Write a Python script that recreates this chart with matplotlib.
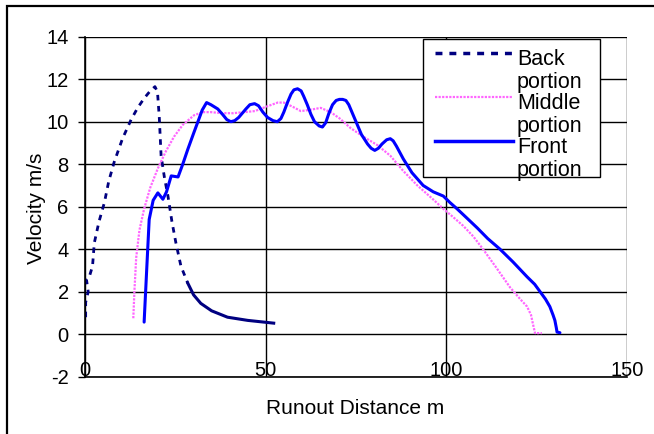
import numpy as np
import matplotlib
matplotlib.use("Agg")
import matplotlib.pyplot as plt
from matplotlib.patches import Rectangle
from matplotlib.lines import Line2D

plt.rcParams['font.family'] = ['Liberation Sans', 'DejaVu Sans']
plt.rcParams['axes.unicode_minus'] = False

# Back portion (dashed navy)
back_x = [0.1, 0.1, 0.8, 0.3, 1.1, 2.0, 2.5, 3.8, 5.3, 6.5, 8.0, 10.3, 12.7, 14.5,
          16.3, 18.0, 19.3, 20.0, 20.5, 21.0, 21.9, 22.9, 24.0, 25.1, 26.5, 28.4,
          30.0, 32.0, 35.0, 39.4, 45.0, 52.2]
back_v = [0.8, 1.5, 2.0, 2.6, 2.7, 3.2, 4.3, 5.3, 6.2, 7.2, 8.1, 9.2, 10.1, 10.65,
          11.1, 11.45, 11.65, 11.4, 10.2, 8.4, 7.4, 6.5, 5.3, 4.3, 3.2, 2.4,
          1.85, 1.45, 1.1, 0.8, 0.65, 0.52]

# Middle portion (pink dotted)
mid_x = [13.3, 13.6, 14.1, 15.0, 16.3, 18.0, 20.1, 22.3, 24.6, 27.0, 30.1, 32.5,
         34.8, 38.0, 41.0, 44.0, 47.0, 50.0, 53.3, 55.0, 57.5, 59.7, 62.0, 65.2,
         68.0, 70.5, 73.5, 77.0, 80.9, 84.5, 88.0, 92.0, 96.0, 99.2, 102.0, 104.7,
         107.5, 110.2, 114.0, 117.7, 120.5, 122.4, 123.5, 124.0, 124.6, 126.5]
mid_v = [0.75, 2.0, 3.6, 4.9, 5.9, 6.9, 7.8, 8.6, 9.3, 9.85, 10.3, 10.45,
         10.45, 10.4, 10.4, 10.45, 10.5, 10.7, 10.9, 10.9, 10.7, 10.5, 10.55, 10.65,
         10.45, 10.15, 9.7, 9.3, 8.9, 8.4, 7.7, 7.0, 6.4, 5.9, 5.5, 5.1,
         4.6, 4.0, 3.1, 2.2, 1.65, 1.3, 0.9, 0.5, 0.05, 0.05]

# Front portion (solid blue)
front_x = [16.3, 17.0, 17.7, 18.8, 20.1, 21.5, 22.5, 23.8, 25.7, 27.0, 28.4, 30.0,
           31.2, 32.4, 33.6, 34.8, 36.7, 38.0, 39.2, 40.3, 41.4, 42.5, 44.5, 45.6,
           46.9, 48.0, 49.2, 50.5, 52.0, 53.2, 54.2, 55.0, 56.0, 57.0, 57.8, 58.8,
           59.8, 60.5, 61.5, 62.5, 63.5, 64.8, 65.7, 66.6, 67.5, 68.5, 69.5, 70.4,
           71.3, 72.2, 73.0, 74.5, 76.5, 78.2, 79.2, 80.2, 81.2, 82.2, 83.5, 84.5,
           85.3, 86.2, 88.1, 90.5, 93.6, 96.4, 99.2, 101.0, 103.0, 105.5, 108.6,
           111.5, 114.9, 118.5, 122.4, 124.5, 126.0, 127.5, 128.7, 129.6, 130.1,
           130.5, 130.7, 131.5]
front_v = [0.57, 3.0, 5.4, 6.3, 6.65, 6.35, 6.7, 7.45, 7.4, 8.0, 8.7, 9.45,
           10.0, 10.55, 10.9, 10.8, 10.6, 10.35, 10.1, 10.0, 10.05, 10.2, 10.6, 10.8,
           10.85, 10.75, 10.45, 10.2, 10.05, 10.0, 10.15, 10.45, 10.9, 11.3, 11.5, 11.55,
           11.45, 11.2, 10.8, 10.35, 10.0, 9.8, 9.75, 9.95, 10.4, 10.8, 11.0, 11.05,
           11.05, 11.0, 10.8, 10.2, 9.4, 8.95, 8.75, 8.65, 8.75, 8.95, 9.15, 9.2,
           9.1, 8.85, 8.25, 7.6, 7.0, 6.7, 6.5, 6.2, 5.9, 5.5, 5.0,
           4.5, 4.0, 3.4, 2.7, 2.35, 2.0, 1.65, 1.3, 0.9, 0.65,
           0.3, 0.1, 0.07]

x_ticks = [0, 50, 100, 150]
y_ticks = [-2, 0, 2, 4, 6, 8, 10, 12, 14]
labels = ['Back\nportion', 'Middle\nportion', 'Front\nportion']

W, H = 654, 434
fig = plt.figure(figsize=(W / 100, H / 100), dpi=100)
ax = fig.add_axes([85.3 / W, 1 - 376.7 / H, 541.4 / W, 340 / H])

navy, pink, blue = '#000080', '#ff66ff', '#0000ff'

# dashes merge into a solid line in the dense tail
split = back_x.index(28.4)
ax.plot(back_x[:split + 1], back_v[:split + 1], color=navy, lw=2, dashes=(2, 2))
ax.plot(back_x[split:], back_v[split:], color=navy, lw=2.2)
ax.plot(mid_x, mid_v, color=pink, lw=1.6, linestyle=(0, (1, 0.6)))
ax.plot(front_x, front_v, color=blue, lw=2.2, solid_capstyle='round',
        solid_joinstyle='round')

ax.set_xlim(0, 150)
ax.set_ylim(-2, 14)
ax.set_xticks(x_ticks)
ax.set_yticks(y_ticks)
ax.grid(True, color='black', lw=1)
for s in ['top', 'right']:
    ax.spines[s].set_visible(False)
for s in ['left', 'bottom']:
    ax.spines[s].set_linewidth(1.2)
ax.tick_params(axis='y', length=5, width=1, pad=7, labelsize=14.5)
ax.tick_params(axis='x', length=0, pad=-11, labelsize=14.5)

fig.text(36 / W, 1 - 208 / H, 'Velocity m/s', rotation=90, ha='center',
         va='center', fontsize=15)
fig.text(355 / W, 1 - 408 / H, 'Runout Distance m', ha='center', va='center',
         fontsize=15)

# figure frame (clipped on right and bottom like the reference)
fig.patches.append(Rectangle((7.3 / W, -0.1), 1.2, 1 - 6.5 / H + 0.1,
                             transform=fig.transFigure, fill=False,
                             edgecolor='black', lw=1.6))

# legend box drawn by hand so the text overflows like in the reference
fig.patches.append(Rectangle((423 / W, 1 - 177 / H), 177 / W, 138 / H,
                             transform=fig.transFigure, facecolor='white',
                             edgecolor='black', lw=1, zorder=5))
styles = [dict(color=navy, lw=2.5, dashes=(2, 2)),
          dict(color=pink, lw=1.6, linestyle=(0, (1, 0.6))),
          dict(color=blue, lw=2.5)]
for i, (lab, st) in enumerate(zip(labels, styles)):
    yl = 53 + 44 * i
    fig.lines.append(Line2D([435 / W, 513 / W], [1 - yl / H, 1 - yl / H],
                            transform=fig.transFigure, zorder=6, **st))
    fig.text(517 / W, 1 - (yl - 4) / H, lab, ha='left', va='top',
             fontsize=15.5, linespacing=1.15, zorder=7)

fig.savefig('out.png', dpi=100)
